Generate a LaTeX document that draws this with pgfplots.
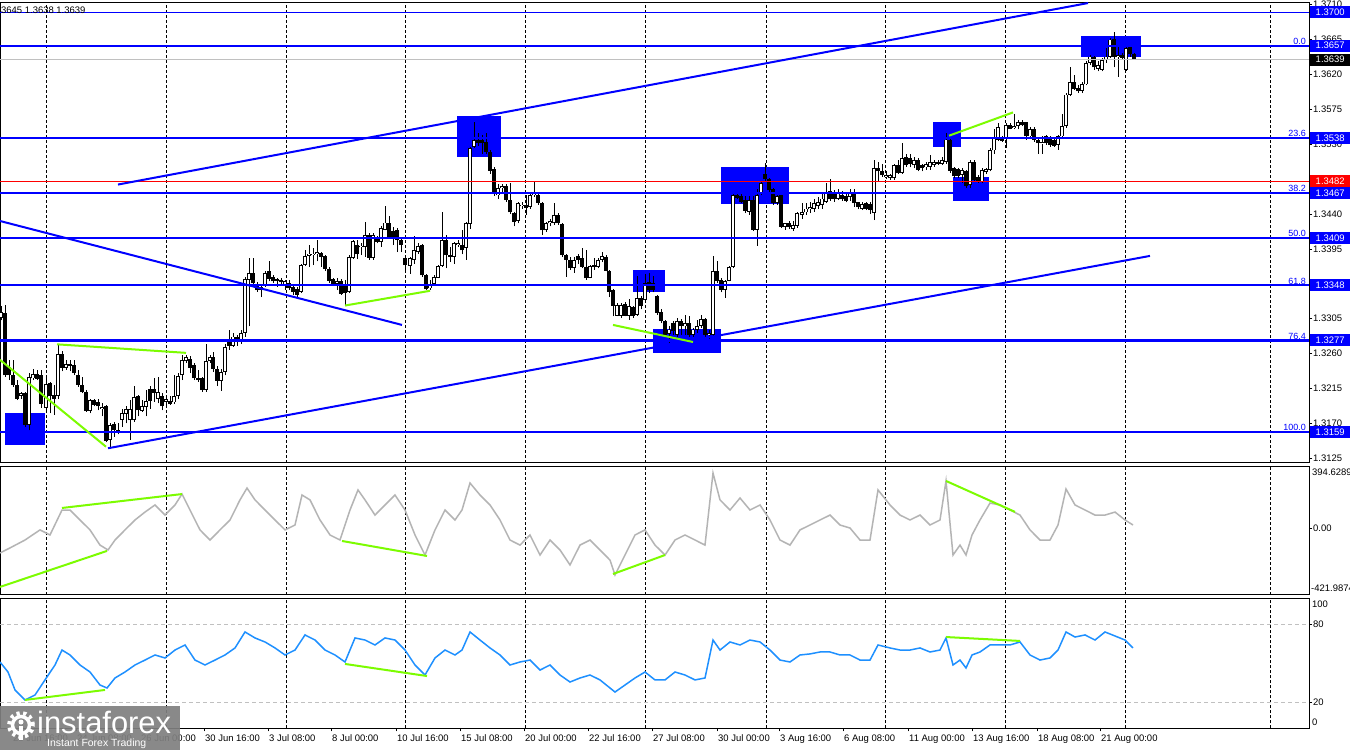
\documentclass[border=0pt]{standalone}
\usepackage{pgfplots}
\pgfplotsset{compat=1.18}
\usepackage{pgfplotstable}
\usepackage{fontspec}
\setmainfont{Liberation Sans}
\definecolor{fibblue}{RGB}{0,0,255}
\definecolor{divgreen}{RGB}{124,252,0}
\definecolor{ccigray}{RGB}{180,180,180}
\definecolor{rsiblue}{RGB}{30,144,255}
\definecolor{bidgray}{RGB}{192,192,192}
\definecolor{lvlred}{RGB}{255,0,0}
\definecolor{logogray}{RGB}{128,128,128}

\pgfplotstableread{
x o h l c
1 1.3306 1.3321 1.3303 1.3314
5 1.3312 1.3323 1.3230 1.3232
9 1.3243 1.3252 1.3226 1.3232
13 1.3232 1.3252 1.3217 1.3220
17 1.3220 1.3226 1.3200 1.3202
21 1.3205 1.3211 1.3202 1.3209
25 1.3209 1.3211 1.3166 1.3168
29 1.3168 1.3235 1.3161 1.3230
33 1.3228 1.3240 1.3226 1.3234
37 1.3234 1.3239 1.3226 1.3227
41 1.3232 1.3239 1.3190 1.3195
46 1.3190 1.3230 1.3185 1.3221
50 1.3222 1.3224 1.3183 1.3205
54 1.3207 1.3220 1.3181 1.3202
58 1.3205 1.3271 1.3202 1.3260
62 1.3260 1.3263 1.3237 1.3242
66 1.3242 1.3252 1.3239 1.3247
70 1.3247 1.3252 1.3237 1.3244
74 1.3245 1.3252 1.3232 1.3235
78 1.3233 1.3239 1.3217 1.3220
82 1.3220 1.3230 1.3209 1.3210
86 1.3210 1.3213 1.3185 1.3186
90 1.3186 1.3202 1.3183 1.3200
94 1.3200 1.3202 1.3192 1.3194
98 1.3197 1.3202 1.3187 1.3192
102 1.3189 1.3196 1.3179 1.3191
106 1.3192 1.3194 1.3146 1.3148
110 1.3149 1.3170 1.3140 1.3168
114 1.3169 1.3172 1.3153 1.3161
118 1.3159 1.3170 1.3156 1.3162
122 1.3175 1.3189 1.3166 1.3183
126 1.3182 1.3192 1.3170 1.3189
130 1.3174 1.3200 1.3149 1.3189
134 1.3174 1.3218 1.3172 1.3204
138 1.3205 1.3207 1.3179 1.3187
142 1.3186 1.3200 1.3185 1.3192
146 1.3191 1.3213 1.3179 1.3199
150 1.3214 1.3218 1.3189 1.3199
154 1.3214 1.3228 1.3198 1.3209
158 1.3201 1.3230 1.3196 1.3211
162 1.3205 1.3209 1.3187 1.3192
166 1.3198 1.3207 1.3192 1.3202
170 1.3199 1.3205 1.3194 1.3195
174 1.3197 1.3232 1.3195 1.3205
178 1.3205 1.3235 1.3202 1.3231
182 1.3232 1.3258 1.3226 1.3252
186 1.3250 1.3258 1.3248 1.3256
190 1.3253 1.3257 1.3235 1.3242
194 1.3245 1.3248 1.3226 1.3228
198 1.3228 1.3239 1.3224 1.3226
202 1.3228 1.3230 1.3211 1.3213
206 1.3213 1.3273 1.3211 1.3250
210 1.3250 1.3258 1.3248 1.3256
213 1.3256 1.3262 1.3236 1.3240
217 1.3240 1.3244 1.3218 1.3225
221 1.3225 1.3240 1.3212 1.3236
225 1.3236 1.3272 1.3232 1.3268
229 1.3275 1.3290 1.3265 1.3270
233 1.3270 1.3286 1.3269 1.3282
237 1.3282 1.3284 1.3270 1.3275
241 1.3275 1.3290 1.3273 1.3287
245 1.3287 1.3359 1.3282 1.3356
249 1.3355 1.3383 1.3295 1.3364
253 1.3364 1.3383 1.3348 1.3351
257 1.3349 1.3353 1.3340 1.3342
261 1.3342 1.3348 1.3333 1.3346
265 1.3348 1.3366 1.3346 1.3364
269 1.3366 1.3380 1.3353 1.3356
273 1.3359 1.3361 1.3351 1.3353
277 1.3356 1.3358 1.3346 1.3354
281 1.3355 1.3357 1.3348 1.3352
285 1.3349 1.3355 1.3342 1.3353
289 1.3351 1.3355 1.3342 1.3344
293 1.3346 1.3348 1.3336 1.3340
297 1.3343 1.3346 1.3333 1.3336
301 1.3340 1.3376 1.3338 1.3374
305 1.3374 1.3394 1.3373 1.3386
309 1.3386 1.3400 1.3372 1.3389
313 1.3387 1.3396 1.3374 1.3389
317 1.3389 1.3406 1.3379 1.3391
321 1.3390 1.3391 1.3372 1.3385
325 1.3386 1.3387 1.3367 1.3369
329 1.3369 1.3372 1.3351 1.3354
333 1.3356 1.3357 1.3347 1.3350
337 1.3350 1.3358 1.3342 1.3354
341 1.3354 1.3356 1.3336 1.3337
345 1.3348 1.3355 1.3323 1.3338
349 1.3339 1.3387 1.3338 1.3385
353 1.3383 1.3407 1.3382 1.3405
357 1.3400 1.3407 1.3382 1.3388
361 1.3397 1.3402 1.3387 1.3399
365 1.3397 1.3430 1.3385 1.3413
369 1.3413 1.3415 1.3381 1.3383
373 1.3383 1.3416 1.3381 1.3413
377 1.3411 1.3412 1.3402 1.3404
381 1.3404 1.3424 1.3398 1.3422
385 1.3420 1.3450 1.3419 1.3429
389 1.3428 1.3437 1.3409 1.3410
393 1.3418 1.3423 1.3400 1.3410
397 1.3419 1.3422 1.3391 1.3407
401 1.3407 1.3409 1.3391 1.3400
405 1.3383 1.3387 1.3366 1.3374
410 1.3373 1.3385 1.3363 1.3383
414 1.3381 1.3412 1.3376 1.3393
418 1.3391 1.3402 1.3389 1.3399
422 1.3400 1.3401 1.3359 1.3361
426 1.3361 1.3363 1.3342 1.3343
430 1.3344 1.3355 1.3342 1.3350
434 1.3350 1.3361 1.3348 1.3359
438 1.3358 1.3374 1.3357 1.3373
442 1.3373 1.3443 1.3372 1.3406
446 1.3406 1.3413 1.3370 1.3387
450 1.3387 1.3398 1.3378 1.3385
454 1.3385 1.3404 1.3376 1.3402
458 1.3400 1.3407 1.3398 1.3403
462 1.3400 1.3419 1.3388 1.3393
466 1.3396 1.3430 1.3381 1.3428
470 1.3427 1.3527 1.3421 1.3525
474 1.3526 1.3558 1.3525 1.3535
478 1.3536 1.3544 1.3528 1.3532
482 1.3535 1.3542 1.3518 1.3531
486 1.3533 1.3545 1.3518 1.3520
490 1.3520 1.3523 1.3492 1.3496
494 1.3498 1.3501 1.3463 1.3466
498 1.3464 1.3479 1.3460 1.3474
502 1.3473 1.3479 1.3469 1.3476
506 1.3476 1.3479 1.3456 1.3458
510 1.3458 1.3480 1.3440 1.3442
514 1.3441 1.3443 1.3424 1.3430
518 1.3431 1.3456 1.3428 1.3454
522 1.3450 1.3456 1.3447 1.3452
526 1.3451 1.3464 1.3439 1.3448
530 1.3449 1.3467 1.3447 1.3464
534 1.3464 1.3482 1.3462 1.3469
538 1.3464 1.3467 1.3452 1.3454
542 1.3454 1.3456 1.3413 1.3419
546 1.3419 1.3430 1.3417 1.3428
550 1.3428 1.3433 1.3424 1.3431
554 1.3428 1.3454 1.3426 1.3439
558 1.3439 1.3441 1.3426 1.3428
562 1.3427 1.3429 1.3385 1.3387
566 1.3387 1.3389 1.3359 1.3381
570 1.3381 1.3385 1.3368 1.3370
574 1.3370 1.3385 1.3364 1.3381
578 1.3386 1.3388 1.3376 1.3381
582 1.3383 1.3396 1.3370 1.3372
586 1.3372 1.3393 1.3355 1.3357
590 1.3358 1.3374 1.3357 1.3373
594 1.3374 1.3383 1.3368 1.3372
598 1.3372 1.3383 1.3370 1.3381
602 1.3381 1.3391 1.3378 1.3386
606 1.3385 1.3387 1.3366 1.3367
609 1.3367 1.3368 1.3333 1.3340
613 1.3342 1.3343 1.3308 1.3322
617 1.3309 1.3325 1.3308 1.3323
621 1.3309 1.3325 1.3306 1.3323
625 1.3324 1.3326 1.3308 1.3309
629 1.3309 1.3330 1.3304 1.3321
633 1.3320 1.3322 1.3306 1.3309
637 1.3310 1.3360 1.3309 1.3332
641 1.3332 1.3334 1.3317 1.3321
645 1.3329 1.3363 1.3326 1.3351
649 1.3353 1.3364 1.3338 1.3342
653 1.3351 1.3360 1.3339 1.3342
657 1.3334 1.3336 1.3310 1.3313
661 1.3314 1.3317 1.3299 1.3302
665 1.3302 1.3304 1.3282 1.3284
669 1.3285 1.3295 1.3274 1.3291
673 1.3299 1.3302 1.3284 1.3289
677 1.3284 1.3306 1.3282 1.3302
681 1.3302 1.3305 1.3284 1.3295
685 1.3295 1.3310 1.3284 1.3300
689 1.3299 1.3308 1.3282 1.3284
693 1.3284 1.3293 1.3282 1.3291
697 1.3291 1.3304 1.3287 1.3296
701 1.3296 1.3310 1.3293 1.3305
705 1.3305 1.3306 1.3282 1.3284
709 1.3284 1.3291 1.3278 1.3287
713 1.3284 1.3386 1.3282 1.3366
717 1.3366 1.3379 1.3351 1.3354
721 1.3355 1.3357 1.3339 1.3342
725 1.3342 1.3355 1.3332 1.3354
729 1.3354 1.3373 1.3353 1.3372
733 1.3372 1.3469 1.3370 1.3464
737 1.3464 1.3468 1.3459 1.3461
741 1.3463 1.3469 1.3454 1.3456
745 1.3458 1.3463 1.3441 1.3444
749 1.3443 1.3463 1.3439 1.3458
753 1.3458 1.3463 1.3418 1.3420
757 1.3420 1.3472 1.3399 1.3464
761 1.3467 1.3482 1.3464 1.3480
765 1.3491 1.3506 1.3482 1.3485
769 1.3485 1.3486 1.3469 1.3471
773 1.3472 1.3474 1.3452 1.3454
777 1.3454 1.3464 1.3452 1.3463
781 1.3464 1.3465 1.3422 1.3423
785 1.3423 1.3429 1.3420 1.3428
789 1.3428 1.3431 1.3421 1.3423
793 1.3421 1.3431 1.3418 1.3426
797 1.3425 1.3443 1.3422 1.3441
802 1.3439 1.3454 1.3434 1.3443
806 1.3442 1.3454 1.3439 1.3447
810 1.3446 1.3456 1.3441 1.3449
814 1.3447 1.3460 1.3443 1.3454
818 1.3450 1.3462 1.3447 1.3456
822 1.3452 1.3467 1.3447 1.3460
826 1.3456 1.3480 1.3454 1.3469
830 1.3470 1.3485 1.3457 1.3459
834 1.3467 1.3471 1.3456 1.3459
838 1.3460 1.3472 1.3458 1.3467
842 1.3464 1.3470 1.3457 1.3459
846 1.3463 1.3466 1.3455 1.3457
850 1.3462 1.3472 1.3457 1.3469
854 1.3469 1.3472 1.3449 1.3454
858 1.3455 1.3456 1.3446 1.3449
862 1.3447 1.3455 1.3445 1.3453
866 1.3454 1.3456 1.3445 1.3447
870 1.3453 1.3456 1.3440 1.3445
874 1.3441 1.3510 1.3432 1.3499
878 1.3499 1.3507 1.3482 1.3495
882 1.3495 1.3505 1.3488 1.3490
886 1.3488 1.3496 1.3485 1.3490
890 1.3486 1.3492 1.3484 1.3490
894 1.3486 1.3505 1.3484 1.3503
898 1.3503 1.3510 1.3492 1.3493
902 1.3493 1.3531 1.3492 1.3512
906 1.3513 1.3517 1.3501 1.3503
910 1.3512 1.3517 1.3500 1.3504
914 1.3503 1.3513 1.3499 1.3510
918 1.3510 1.3512 1.3495 1.3497
922 1.3503 1.3505 1.3495 1.3499
926 1.3500 1.3507 1.3497 1.3504
930 1.3501 1.3516 1.3497 1.3507
934 1.3503 1.3510 1.3501 1.3507
938 1.3507 1.3510 1.3503 1.3504
942 1.3505 1.3514 1.3503 1.3510
946 1.3507 1.3544 1.3505 1.3536
950 1.3536 1.3538 1.3493 1.3496
954 1.3499 1.3501 1.3486 1.3489
958 1.3498 1.3499 1.3486 1.3489
962 1.3490 1.3499 1.3480 1.3497
966 1.3496 1.3497 1.3474 1.3476
970 1.3477 1.3510 1.3473 1.3507
974 1.3507 1.3510 1.3482 1.3484
978 1.3488 1.3490 1.3480 1.3482
982 1.3482 1.3499 1.3480 1.3497
986 1.3494 1.3499 1.3492 1.3498
990 1.3497 1.3525 1.3495 1.3522
994 1.3522 1.3550 1.3518 1.3538
998 1.3536 1.3557 1.3534 1.3552
1002 1.3538 1.3540 1.3533 1.3534
1006 1.3538 1.3557 1.3525 1.3555
1010 1.3555 1.3557 1.3549 1.3550
1014 1.3551 1.3569 1.3549 1.3554
1018 1.3553 1.3561 1.3549 1.3559
1022 1.3559 1.3561 1.3553 1.3555
1026 1.3558 1.3559 1.3536 1.3540
1030 1.3540 1.3552 1.3538 1.3550
1034 1.3550 1.3552 1.3533 1.3536
1038 1.3536 1.3538 1.3518 1.3531
1042 1.3531 1.3540 1.3518 1.3533
1046 1.3540 1.3542 1.3529 1.3531
1050 1.3538 1.3540 1.3527 1.3529
1054 1.3536 1.3538 1.3527 1.3528
1058 1.3529 1.3542 1.3523 1.3540
1062 1.3540 1.3569 1.3538 1.3553
1066 1.3553 1.3596 1.3551 1.3594
1070 1.3594 1.3630 1.3592 1.3610
1074 1.3610 1.3619 1.3600 1.3601
1078 1.3603 1.3606 1.3596 1.3598
1082 1.3599 1.3610 1.3596 1.3607
1086 1.3607 1.3637 1.3606 1.3635
1090 1.3635 1.3645 1.3632 1.3643
1094 1.3643 1.3644 1.3626 1.3629
1098 1.3627 1.3637 1.3624 1.3632
1102 1.3626 1.3641 1.3624 1.3639
1106 1.3638 1.3654 1.3635 1.3643
1110 1.3643 1.3667 1.3641 1.3665
1114 1.3666 1.3675 1.3629 1.3643
1118 1.3642 1.3656 1.3617 1.3645
1122 1.3645 1.3647 1.3639 1.3641
1126 1.3626 1.3656 1.3625 1.3654
1130 1.3656 1.3657 1.3643 1.3646
1134 1.3646 1.3647 1.3639 1.3639
}\candles

\pgfplotstableread{
x v
0 -156
10 -124
25 -74
40 -10
50 -42
62 116
70 116
80 53
90 -10
100 -106
108 -137
115 -74
125 -10
135 53
145 103
155 148
165 84
175 148
182 217
190 116
200 -10
210 -74
220 -10
230 53
240 180
247 255
255 180
265 116
275 53
285 -10
295 21
302 211
310 180
320 53
330 -42
340 -74
350 116
358 243
365 180
375 84
385 148
395 211
405 116
415 -42
425 -169
435 -10
445 116
455 53
462 116
470 287
480 211
490 148
500 53
510 -74
520 -106
530 -42
540 -169
550 -74
560 -137
570 -232
580 -106
590 -74
600 -137
610 -201
615 -295
625 -169
635 -42
645 -10
655 -106
665 -169
675 -74
685 -42
695 -74
705 -106
713 350
720 180
730 116
740 192
750 116
760 148
770 53
780 -74
790 -106
800 -10
810 21
820 53
830 84
840 21
850 2
860 -74
870 -74
878 243
890 148
900 84
910 53
920 84
930 21
940 53
946 300
953 -169
960 -106
966 -169
972 -42
980 53
990 160
1000 148
1010 116
1020 84
1030 -10
1040 -74
1050 -74
1058 21
1066 249
1075 148
1085 116
1095 84
1105 84
1115 103
1125 53
1133 21
}\cci

\pgfplotstableread{
x v
0 51.0
8 43.3
15 29.5
25 21.8
35 25.6
45 37.2
55 48.7
62 60.2
70 56.4
80 48.7
90 43.3
100 33.3
107 31.0
115 38.7
125 43.3
135 48.7
145 52.5
155 56.4
165 54.1
175 60.2
185 64.1
195 52.5
205 48.7
215 52.5
225 56.4
235 61.8
245 74.1
255 69.5
265 66.4
275 61.8
285 56.4
295 60.2
305 71.8
315 67.9
325 60.2
335 56.4
345 51.0
355 69.5
365 67.9
375 64.1
385 69.5
395 67.9
405 60.2
415 48.7
425 41.0
435 54.1
445 60.2
455 56.4
462 60.2
470 74.1
480 67.9
490 61.8
500 56.4
510 48.7
520 51.0
530 52.5
540 44.8
550 48.7
560 41.0
570 35.6
580 38.7
590 41.0
600 37.2
610 31.0
615 27.9
625 33.3
635 38.7
645 43.3
655 37.2
665 37.2
675 43.3
685 41.0
695 37.2
705 38.7
713 67.9
720 60.2
730 66.4
740 64.1
750 67.9
760 66.4
770 60.2
780 52.5
790 51.0
800 56.4
810 57.2
820 58.7
830 58.7
840 56.4
850 56.4
860 52.5
870 52.5
878 64.1
890 61.8
900 60.2
910 60.2
920 61.8
930 58.7
940 60.2
946 69.5
953 48.7
960 52.5
966 46.4
972 56.4
980 58.7
990 64.1
1000 64.1
1010 64.1
1020 66.4
1030 56.4
1040 52.5
1050 54.1
1058 60.2
1066 74.1
1075 70.2
1085 71.8
1095 67.9
1105 74.1
1115 71.0
1125 67.9
1133 61.8
}\rsi

\pgfplotsset{
  panel/.style={
    scale only axis, width=1309bp, xmin=0, xmax=1309, clip=false,
    axis line style={black, line width=1bp},
    tick align=outside, major tick length=3bp,
    ytick pos=right, yticklabel pos=right,
    ytick style={black, line width=0.8bp},
    yticklabel style={font=\fontsize{9.5}{11}\selectfont, inner sep=1bp},
    major grid style={black, line width=1bp, dash pattern=on 3bp off 2bp},
    /pgf/number format/assume math mode=true,
  },
}
\tikzset{
  lab/.style={anchor=west, text=white, font=\fontsize{9.5}{11}\selectfont,
    minimum width=40bp, minimum height=12bp, inner sep=0bp, xshift=1bp},
  fib/.style={anchor=south east, text=fibblue, font=\fontsize{9}{10}\selectfont, inner sep=1bp},
  side/.style={anchor=west, font=\fontsize{9.5}{11}\selectfont, inner sep=0bp},
}

\begin{document}
\begin{tikzpicture}[x=1bp,y=1bp]
\fill[white] (0,0) rectangle (1350,750);

% ---------------- main price panel ----------------
\begin{axis}[panel, at={(0bp,287bp)}, anchor=south west, height=460.7bp,
  ymin=1.3119, ymax=1.3713,
  xtick={46,166,286,405,525,645,766,885,1005,1125,1270}, xticklabels={},
  xmajorgrids, xtick style={draw=none},
  ytick={1.3125,1.3170,1.3215,1.3260,1.3305,1.3350,1.3395,1.3440,1.3485,1.3530,1.3575,1.3620,1.3665,1.3710},
  yticklabels={1.3125,1.3170,1.3215,1.3260,1.3305,1.3350,1.3395,1.3440,1.3485,1.3530,1.3575,1.3620,1.3665,1.3710},
]
% blue zones
\addplot[fill=fibblue, draw=none] coordinates {(5,1.3142) (45,1.3142) (45,1.3184) (5,1.3184)} -- cycle;
\addplot[fill=fibblue, draw=none] coordinates {(457,1.3514) (501,1.3514) (501,1.3567) (457,1.3567)} -- cycle;
\addplot[fill=fibblue, draw=none] coordinates {(633,1.3339) (665,1.3339) (665,1.3368) (633,1.3368)} -- cycle;
\addplot[fill=fibblue, draw=none] coordinates {(653,1.3261) (721,1.3261) (721,1.3292) (653,1.3292)} -- cycle;
\addplot[fill=fibblue, draw=none] coordinates {(721,1.3453) (789,1.3453) (789,1.3501) (721,1.3501)} -- cycle;
\addplot[fill=fibblue, draw=none] coordinates {(933,1.3527) (961,1.3527) (961,1.3558) (933,1.3558)} -- cycle;
\addplot[fill=fibblue, draw=none] coordinates {(953,1.3457) (989,1.3457) (989,1.3488) (953,1.3488)} -- cycle;
\addplot[fill=fibblue, draw=none] coordinates {(1081,1.3643) (1141,1.3643) (1141,1.3669) (1081,1.3669)} -- cycle;

% candles: wicks
\addplot[draw=none, mark=none, error bars/.cd, y dir=plus, y explicit, error mark=none,
  error bar style={draw=black, line width=1bp}]
  table[x=x, y=l, y error plus expr=\thisrow{h}-\thisrow{l}] {\candles};
% black bodies
\addplot[draw=none, mark=none, restrict expr to domain={\thisrow{o}-\thisrow{c}}{0.00001:1},
  error bars/.cd, y dir=plus, y explicit, error mark=none,
  error bar style={draw=black, line width=3.2bp}]
  table[x=x, y=c, y error plus expr=\thisrow{o}-\thisrow{c}] {\candles};
% white bodies
\addplot[draw=none, mark=none, restrict expr to domain={\thisrow{c}-\thisrow{o}}{0:1},
  error bars/.cd, y dir=plus, y explicit, error mark=none,
  error bar style={draw=black, line width=3.2bp}]
  table[x=x, y=o, y error plus expr=\thisrow{c}-\thisrow{o}] {\candles};
\addplot[draw=none, mark=none, restrict expr to domain={\thisrow{c}-\thisrow{o}}{0:1},
  error bars/.cd, y dir=plus, y explicit, error mark=none,
  error bar style={draw=white, line width=1.3bp, shorten <=0.9bp, shorten >=0.9bp}]
  table[x=x, y=o, y error plus expr=\thisrow{c}-\thisrow{o}] {\candles};

% horizontal levels
\addplot[bidgray, line width=1bp] coordinates {(0,1.3639) (1309,1.3639)};
\addplot[lvlred, line width=1bp] coordinates {(0,1.3482) (1309,1.3482)};
\addplot[fibblue, line width=1bp] coordinates {(0,1.3700) (1309,1.3700)};
\addplot[fibblue, line width=2bp] coordinates {(0,1.3657) (1309,1.3657)};
\addplot[fibblue, line width=2bp] coordinates {(0,1.3538) (1309,1.3538)};
\addplot[fibblue, line width=2bp] coordinates {(0,1.3467) (1309,1.3467)};
\addplot[fibblue, line width=2bp] coordinates {(0,1.3409) (1309,1.3409)};
\addplot[fibblue, line width=2bp] coordinates {(0,1.3348) (1309,1.3348)};
\addplot[fibblue, line width=3bp] coordinates {(0,1.3277) (1309,1.3277)};
\addplot[fibblue, line width=2bp] coordinates {(0,1.3159) (1309,1.3159)};

% trend lines
\addplot[fibblue, line width=2bp] coordinates {(118,1.3478) (1088,1.3712)};
\addplot[fibblue, line width=2bp] coordinates {(108,1.3138) (1150,1.3386)};
\addplot[fibblue, line width=2bp] coordinates {(0,1.3431) (402,1.3297)};

% divergence lines
\addplot[divgreen, line width=2bp] coordinates {(0,1.3252) (106,1.3140)};
\addplot[divgreen, line width=2bp] coordinates {(57,1.3272) (186,1.3261)};
\addplot[divgreen, line width=2bp] coordinates {(345,1.3322) (430,1.3341)};
\addplot[divgreen, line width=2bp] coordinates {(613,1.3297) (693,1.3275)};
\addplot[divgreen, line width=2bp] coordinates {(949,1.3541) (1013,1.3571)};

% fib labels
\node[fib] at (axis cs:1307,1.3657) {0.0};
\node[fib] at (axis cs:1307,1.3538) {23.6};
\node[fib] at (axis cs:1307,1.3467) {38.2};
\node[fib] at (axis cs:1307,1.3409) {50.0};
\node[fib] at (axis cs:1307,1.3348) {61.8};
\node[fib] at (axis cs:1307,1.3277) {76.4};
\node[fib] at (axis cs:1307,1.3159) {100.0};

\coordinate (L3700) at (axis cs:1309,1.3700);
\coordinate (L3657) at (axis cs:1309,1.3657);
\coordinate (L3639) at (axis cs:1309,1.3639);
\coordinate (L3538) at (axis cs:1309,1.3538);
\coordinate (L3482) at (axis cs:1309,1.3482);
\coordinate (L3467) at (axis cs:1309,1.3467);
\coordinate (L3409) at (axis cs:1309,1.3409);
\coordinate (L3348) at (axis cs:1309,1.3348);
\coordinate (L3277) at (axis cs:1309,1.3277);
\coordinate (L3159) at (axis cs:1309,1.3159);
\end{axis}

\node[lab, fill=fibblue] at (L3700) {1.3700};
\node[lab, fill=fibblue] at (L3657) {1.3657};
\node[lab, fill=black] at (L3639) {1.3639};
\node[lab, fill=fibblue] at (L3538) {1.3538};
\node[lab, fill=lvlred] at (L3482) {1.3482};
\node[lab, fill=fibblue] at (L3467) {1.3467};
\node[lab, fill=fibblue] at (L3409) {1.3409};
\node[lab, fill=fibblue] at (L3348) {1.3348};
\node[lab, fill=fibblue] at (L3277) {1.3277};
\node[lab, fill=fibblue] at (L3159) {1.3159};

\node[anchor=west, font=\fontsize{9.5}{10}\selectfont, inner sep=0bp] at (1,739.5) {3645 1.3638 1.3639};

% ---------------- CCI panel ----------------
\begin{axis}[panel, at={(0bp,155bp)}, anchor=south west, height=129bp,
  ymin=-421.9874, ymax=394.6289,
  xtick={46,166,286,405,525,645,766,885,1005,1125,1270}, xticklabels={},
  xmajorgrids, xtick style={draw=none},
  ytick={0}, yticklabels={0.00},
]
\addplot[ccigray, line width=1.5bp] table[x=x, y=v] {\cci};
\addplot[divgreen, line width=2bp] coordinates {(0,-371) (107,-143)};
\addplot[divgreen, line width=2bp] coordinates {(62,129) (182,217)};
\addplot[divgreen, line width=2bp] coordinates {(342,-80) (427,-175)};
\addplot[divgreen, line width=2bp] coordinates {(613,-289) (665,-169)};
\addplot[divgreen, line width=2bp] coordinates {(946,300) (1015,104)};
\end{axis}
\node[side] at (1312,278) {394.6289};
\node[side] at (1311,162) {-421.9874};

% ---------------- RSI panel ----------------
\begin{axis}[panel, at={(0bp,21.7bp)}, anchor=south west, height=130bp,
  ymin=0, ymax=100,
  ytick={20,80}, yticklabels={20,80},
  xtick pos=bottom,
  xtick={12,76,140,204,268,331,396,460,524,588,652,717,779,843,908,972,1037,1100},
  xticklabels={23 Jun 16:00,24 Jun 08:00,26 Jun 00:00,30 Jun 16:00,3 Jul 08:00,8 Jul 00:00,10 Jul 16:00,15 Jul 08:00,20 Jul 00:00,22 Jul 16:00,27 Jul 08:00,30 Jul 00:00,3 Aug 16:00,6 Aug 08:00,11 Aug 00:00,13 Aug 16:00,18 Aug 08:00,21 Aug 00:00},
  xtick style={black, line width=0.8bp},
  xticklabel style={anchor=north west, font=\fontsize{9.5}{11}\selectfont, inner sep=1bp, yshift=-2.5bp},
  extra x ticks={46,166,286,405,525,645,766,885,1005,1125,1270},
  extra x tick labels={},
  extra x tick style={grid=major, major tick length=0pt},
]
\addplot[bidgray, line width=1bp, dash pattern=on 4bp off 3bp] coordinates {(0,80) (1309,80)};
\addplot[bidgray, line width=1bp, dash pattern=on 4bp off 3bp] coordinates {(0,20) (1309,20)};
\addplot[rsiblue, line width=1.5bp] table[x=x, y=v] {\rsi};
\addplot[divgreen, line width=2bp] coordinates {(25,21.8) (105,29.5)};
\addplot[divgreen, line width=2bp] coordinates {(345,49.5) (427,40.2)};
\addplot[divgreen, line width=2bp] coordinates {(946,70.2) (1020,67.2)};
\end{axis}
\node[side] at (1312,146) {100};
\node[side] at (1312,28) {0};

% ---------------- watermark ----------------
\fill[logogray, fill opacity=0.92] (0,0) rectangle (180,44);
\draw[white, line width=3.5bp] (21,25) circle (8.5);
\draw[white, line width=4bp, dash pattern=on 3.2bp off 3.5bp] (21,25) circle (12);
\fill[white] (21,28) circle (2.5);
\fill[white] (19,10) rectangle (23,24);
\node[white, anchor=base west, inner sep=0bp, font=\fontsize{31}{31}\selectfont] at (37,17) {instaforex};
\node[white, anchor=base west, inner sep=0bp, font=\fontsize{10.5}{12}\selectfont] at (47,4) {Instant Forex Trading};

\pgfresetboundingbox
\path[use as bounding box] (0,0) rectangle (1350,750);
\end{tikzpicture}
\end{document}
